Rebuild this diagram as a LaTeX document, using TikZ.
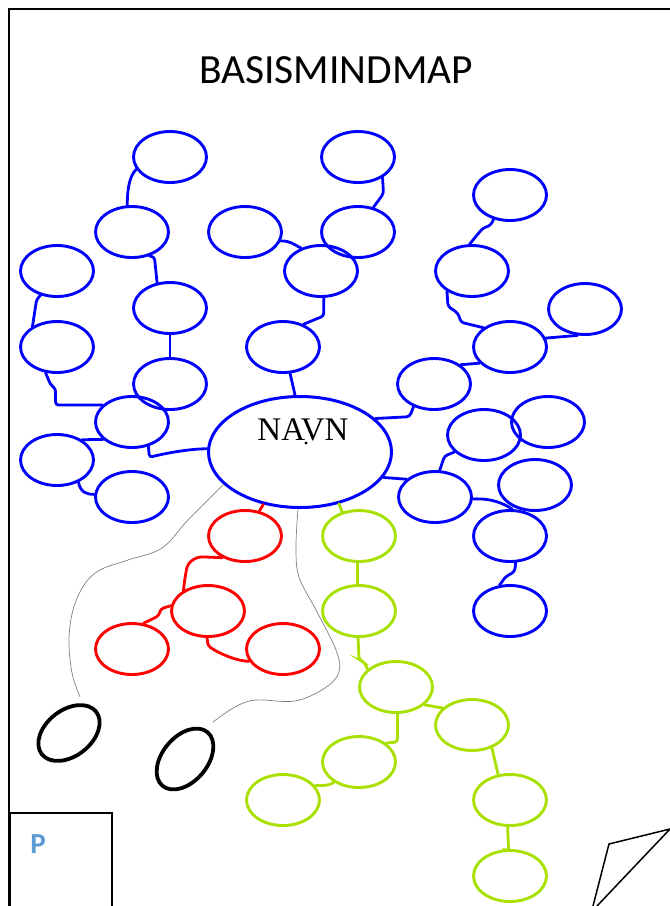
\documentclass[tikz,border=0pt]{standalone}
\usepackage{fontspec}
\newfontfamily\titlefont{Carlito}
\newfontfamily\namefont{Liberation Serif}
\usetikzlibrary{shapes.geometric}
\definecolor{mapblue}{RGB}{0,0,255}
\definecolor{mapred}{RGB}{255,0,0}
\definecolor{mapgreen}{RGB}{168,224,0}
\definecolor{pblue}{RGB}{91,155,213}

\begin{document}
\begin{tikzpicture}[x=1pt, y=-1pt,
    bubble/.style={ellipse, line width=2.9pt, minimum width=73pt, minimum height=51pt, inner sep=0pt},
    blob/.style={ellipse, draw=black, line width=3.8pt, inner sep=0pt},
    wire/.style={line width=2.8pt, rounded corners=3pt, line cap=round},
    thread/.style={gray, line width=0.7pt}]
    \useasboundingbox (0,0) rectangle (670,906);

    % Page frame and title
    \draw[line width=1.8pt] (9,906) -- (9,9) -- (670,9);
    \node[font=\titlefont\fontsize{41.5}{49}\selectfont] (title) at (336,70) {BASISMINDMAP};

    % Centre
    \node[bubble, draw=mapblue, line width=3pt, minimum width=183pt, minimum height=111pt] (navn) at (300,452) {};
    \node[font=\namefont\fontsize{33}{40}\selectfont, anchor=base] (navnlbl) at (303,440) {NAVN};
    \fill (navnlbl.base) ++(3,3) circle (1.7pt);

    % Blue bubbles
    \foreach \n/\x/\y in {b1/170/157, b2/132/232, b3/57/271, b4/170/308, b5/57/347, b6/170/384,
        b7/132/422, b8/57/460, b9/132/497, b10/245/232, b11/358/157, b12/358/232, b13/321/271,
        b14/283/347, b15/510/195, b16/472/271, b17/585/309, b18/510/347, b19/434/384,
        b20/484/435, b21/548/422, b22/435/497, b23/535/485, b24/510/536, b25/510/611}
        \node[bubble, draw=mapblue] (\n) at (\x,\y) {};

    % Red bubbles
    \foreach \n/\x/\y in {r1/245/536, r2/208/611, r3/132/649, r4/283/649}
        \node[bubble, draw=mapred] (\n) at (\x,\y) {};

    % Green bubbles
    \foreach \n/\x/\y in {g1/359/536, g2/359/611, g3/396/687, g4/472/725, g5/359/762,
        g6/283/800, g7/510/800, g8/510/876}
        \node[bubble, draw=mapgreen] (\n) at (\x,\y) {};

    % Black ovals
    \node[blob, minimum width=69pt, minimum height=46pt, rotate=38] (k1) at (69,733) {};
    \node[blob, minimum width=70pt, minimum height=45pt, rotate=50] (k2) at (185,759) {};
    \coordinate (k1top) at (80,697);
    \coordinate (k2top) at (213,722);

    % Blue links
    \draw[wire, mapblue] (b1.200) .. controls +(-8,8) and +(0,-12) .. (b2.100);
    \draw[wire, mapblue] (b2.306) -- ++(5,1) -- (b4.117);
    \draw[wire, mapblue] (b3.236) -- ++(-4,4) -- (b5.140);
    \draw[wire, mapblue] (b4.south) -- (b6.north);
    \draw[wire, mapblue] (b5.246) -- ++(5,12) -- ++(5,4) |- (b7.150);
    \draw[wire, mapblue] (b7.304) -- ++(1,11) .. controls +(20,-5) and +(-15,0) .. (navn.178);
    \draw[wire, mapblue] (b8.39) -- (b7.211);
    \draw[wire, mapblue] (b8.314) .. controls +(2,10) and +(-8,0) .. (b9.176);
    \draw[wire, mapblue] (b10.346) .. controls +(10,0) and +(-8,-4) .. (b13.131);
    \draw[wire, mapblue] (b13.276) -- ++(0,18) -- (b14.48);
    \draw[wire, mapblue] (b14.285) -- (navn.95);
    \draw[wire, mapblue] (b11.320) -- ++(1,16) -- (b12.58);
    \draw[wire, mapblue] (b15.236) -- ++(-3,6) -- ++(-8,3) -- (b16.95);
    \draw[wire, mapblue] (b16.219) -- ++(1,15) -- ++(10,7) -- ++(3,9) -- (b18.144);
    \draw[wire, mapblue] (b18.14) -- (b17.254);
    \draw[wire, mapblue] (b18.208) -- (b19.36);
    \draw[wire, mapblue] (b19.228) -- ++(-4,10) -- (navn.24);
    \draw[wire, mapblue] (b20.210) -- ++(-10,4) -- (b22.80);
    \draw[wire, mapblue] (navn.343) -- (b22.148);
    \draw[wire, mapblue] (b22.357) .. controls +(20,-1) and +(-8,-5) .. (b24.85);
    \draw[wire, mapblue] (b24.282) -- ++(-1,9) -- ++(-9,5) -- (b25.112);

    % Red links
    \draw[wire, mapred] (navn.235) -- (r1.60);
    \draw[wire, mapred, rounded corners=5pt] (r1.224) -- ++(-25,-1) -- ++(-10,7) -- ++(-3,17) -- (r2.140);
    \draw[wire, mapred] (r2.172) -- ++(-10,3) -- ++(-2,7) -- (r3.66);
    \draw[wire, mapred] (r2.268) -- ++(1,8) .. controls +(12,8) and +(-12,0) .. (r4.200);

    % Green links
    \draw[wire, mapgreen] (navn.307) -- (g1.125);
    \draw[wire, mapgreen] (g1.267) -- (g2.93);
    \draw[wire, mapgreen] (g2.268) -- ++(1,22) -- ++(5,2) -- (g3.148);
    \draw[wire, mapgreen] (g3.328) -- (g4.150);
    \draw[wire, mapgreen] (g3.273) -- ++(0,28) -- (g5.35);
    \draw[wire, mapgreen] (g5.219) .. controls +(-8,5) and +(6,-1) .. (g6.24);
    \draw[wire, mapgreen] (g4.311) -- (g7.115);
    \draw[wire, mapgreen] (g7.265) -- ++(1,24) -- (g8.104);

    % Grey threads
    \draw[thread] plot[smooth, tension=0.6] coordinates {(navn.203) (188,520) (162,548) (128,560)
        (100,570) (84,585) (73,610) (69,640) (72,673) (k1top)};
    \draw[thread] plot[smooth, tension=0.6] coordinates {(navn.268) (296,547) (299,577) (316,610)
        (336,650) (339,672) (325,688) (295,701) (256,700) (235,707) (k2top)};

    % P box
    \draw[line width=1.5pt] (10,906) -- (10,813) -- (112,813) -- (112,906);
    \node[font=\titlefont\bfseries\fontsize{29}{34}\selectfont, text=pblue, anchor=base] (pmark) at (38,853) {P};

    % Corner sheet
    \draw[line width=1.5pt] (593,906) -- (609,844) -- (670,829) -- (597,906);
\end{tikzpicture}
\end{document}
